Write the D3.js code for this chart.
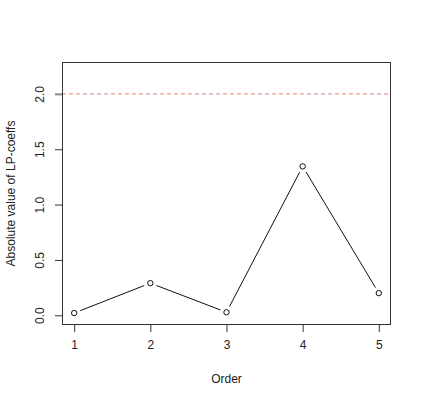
<!DOCTYPE html>
<html><head><meta charset="utf-8">
<script src="https://cdn.jsdelivr.net/npm/d3@7"></script>
<style>body{margin:0;background:#fff}svg{display:block}text{font-family:"Liberation Sans",Arial,sans-serif;fill:#222}</style>
</head><body>
<script>
const orders = [1, 2, 3, 4, 5];
const coeffs = [0.02, 0.29, 0.027, 1.345, 0.20];
const yTicks = [0, 0.5, 1.0, 1.5, 2.0];
const xTicks = [1, 2, 3, 4, 5];
const threshold = 2.0;

const W = 423, H = 403;
const svg = d3.select("body").append("svg").attr("width", W).attr("height", H);
const pL = 62, pR = 391, pT = 62, pB = 325;
const x = d3.scaleLinear().domain([0.84, 5.16]).range([pL, pR]);
const y = d3.scaleLinear().domain([-0.088, 2.288]).range([pB, pT]);

// threshold line
svg.append("line").attr("x1", pL).attr("x2", pR)
  .attr("y1", y(threshold)).attr("y2", y(threshold))
  .attr("stroke", "#e89a9a").attr("stroke-width", 1.2).attr("stroke-dasharray", "4,3");

// box
svg.append("rect").attr("x", pL + 0.5).attr("y", pT + 0.5)
  .attr("width", pR - pL - 1).attr("height", pB - pT - 1)
  .attr("fill", "none").attr("stroke", "#333");

// y axis
const yAxis = d3.axisLeft(y).tickValues(yTicks).tickSize(7).tickPadding(4)
  .tickFormat(d3.format(".1f"));
const gy = svg.append("g").attr("transform", `translate(${pL},0)`).call(yAxis);
gy.select(".domain").remove();
gy.selectAll(".tick line").attr("stroke", "#333")
  .filter((d) => d === threshold).attr("stroke", "#888").attr("stroke-width", 2);
gy.selectAll(".tick text").attr("font-size", 12)
  .attr("x", null).attr("dy", "0.35em")
  .attr("transform", "translate(-22,0) rotate(-90)")
  .attr("text-anchor", "middle");

// x axis
const xAxis = d3.axisBottom(x).tickValues(xTicks).tickSize(7).tickPadding(8).tickFormat(d3.format("d"));
const gx = svg.append("g").attr("transform", `translate(0,${pB})`).call(xAxis);
gx.select(".domain").remove();
gx.selectAll(".tick line").attr("stroke", "#333");
gx.selectAll(".tick text").attr("font-size", 12);

// titles
svg.append("text").attr("x", x(3)).attr("y", 383).attr("text-anchor", "middle").attr("font-size", 12).text("Order");
svg.append("text").attr("transform", `translate(15,${(pT + pB) / 2}) rotate(-90)`)
  .attr("text-anchor", "middle").attr("font-size", 12).text("Absolute value of LP-coeffs");

// data line (type "b": segments with gaps)
const pts = orders.map((o, i) => [x(o), y(coeffs[i])]);
const gap = 6.5;
for (let i = 0; i < pts.length - 1; i++) {
  const [x1, y1] = pts[i], [x2, y2] = pts[i + 1];
  const dx = x2 - x1, dy = y2 - y1, L = Math.hypot(dx, dy);
  if (L <= 2 * gap) continue;
  const ux = dx / L, uy = dy / L;
  svg.append("line")
    .attr("x1", x1 + ux * gap).attr("y1", y1 + uy * gap)
    .attr("x2", x2 - ux * gap).attr("y2", y2 - uy * gap)
    .attr("stroke", "#111").attr("stroke-width", 1);
}
svg.selectAll("circle.pt").data(orders).enter().append("circle")
  .attr("cx", (d) => x(d)).attr("cy", (d, i) => y(coeffs[i])).attr("r", 2.7)
  .attr("fill", "none").attr("stroke", "#111").attr("stroke-width", 1);
</script>
</body></html>
